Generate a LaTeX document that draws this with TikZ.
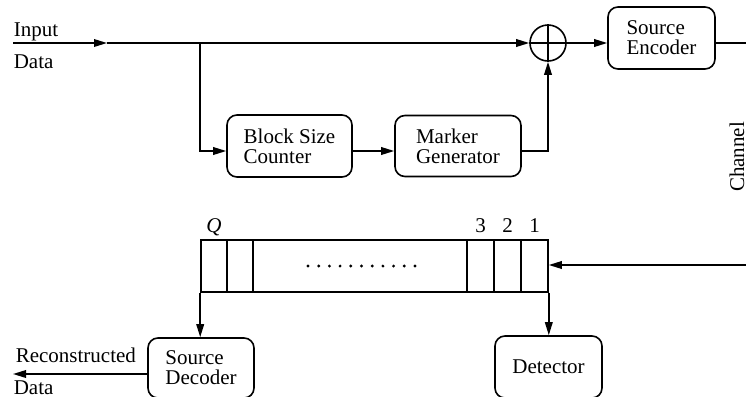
\documentclass[tikz,border=0pt]{standalone}
\usepackage{fontspec}
\setmainfont{Liberation Serif}
\usetikzlibrary{arrows.meta}

\begin{document}
\begin{tikzpicture}[x=0.5pt,y=-0.5pt, line width=0.8pt,
  font=\fontsize{10.5}{10}\selectfont,
  box/.style={draw, rounded corners=5pt, align=left, inner sep=0pt},
  tip/.style={-{Triangle[length=6.5pt,width=3.8pt]}},
  lbl/.style={anchor=base west, inner sep=0pt}]
\useasboundingbox (0,0) rectangle (746,397);

% --- transmitter ---
\node[box, minimum width=62.5pt, minimum height=31pt] (bsc) at (289.5,146) {Block Size\\Counter};
\node[box, minimum width=63pt, minimum height=30.5pt] (mg) at (458,146) {Marker\\Generator};
\node[draw, circle, minimum size=18pt, inner sep=0pt] (sum) at (548,43) {};
\draw (sum.north) -- (sum.south) (sum.west) -- (sum.east);
\node[box, minimum width=53.5pt, minimum height=31pt] (enc) at (661.5,38) {Source\\Encoder};

\node[lbl] (lin) at (13,36) {Input};
\node[lbl] (lind) at (13,68) {Data};

\coordinate (in) at (13,43);
\coordinate (inmid) at (107,43);
\coordinate (br) at (200,43);
\coordinate (rowb) at (0,151);
\coordinate (chout) at (746,43);

\draw[tip] (in) -- (inmid);
\draw[tip] (inmid) -- (sum.west);
\draw[tip] (br) |- (bsc.west |- rowb);
\draw[tip] (bsc.east |- rowb) -- (mg.west |- rowb);
\draw[tip] (mg.east |- rowb) -| (sum.south);
\draw[tip] (sum.east) -- (enc.west |- sum.east);
\draw (enc.east |- sum.east) -- (chout);

\node[rotate=90] (ch) at (737,157) {Channel};

% --- receiver buffer ---
\node[draw, minimum width=173.5pt, minimum height=26pt, inner sep=0pt] (buf) at (374.5,266) {};
\foreach \x in {227,253,467,494,521}
  \draw (\x,0 |- buf.north) -- (\x,0 |- buf.south);
\foreach \i in {0,...,10}
  \fill (308+\i*10.7,266) circle (0.8pt);

\node[anchor=base, inner sep=0pt] (lq) at (214,232) {\textit{Q}};
\node[anchor=base, inner sep=0pt] (l3) at (480.5,232) {3};
\node[anchor=base, inner sep=0pt] (l2) at (507.5,232) {2};
\node[anchor=base, inner sep=0pt] (l1) at (534.5,232) {1};

\node[box, minimum width=53.5pt, minimum height=31pt] (det) at (548.5,367) {Detector};
\node[box, minimum width=53pt, minimum height=30pt] (dec) at (201,368) {Source\\Decoder};

\coordinate (chin) at (746,265);
\coordinate (rowd) at (0,374);
\coordinate (out) at (13,374);

\draw[tip] (chin) -- (buf.east |- chin);
\draw[tip] (buf.south east) -- (buf.south east |- det.north);
\draw[tip] (buf.south west) -- (buf.south west |- dec.north);
\draw[tip] (dec.west |- rowd) -- (out);

\node[lbl] (lrec) at (15,362) {Reconstructed};
\node[lbl] (lrecd) at (13,394.5) {Data};
\end{tikzpicture}
\end{document}
